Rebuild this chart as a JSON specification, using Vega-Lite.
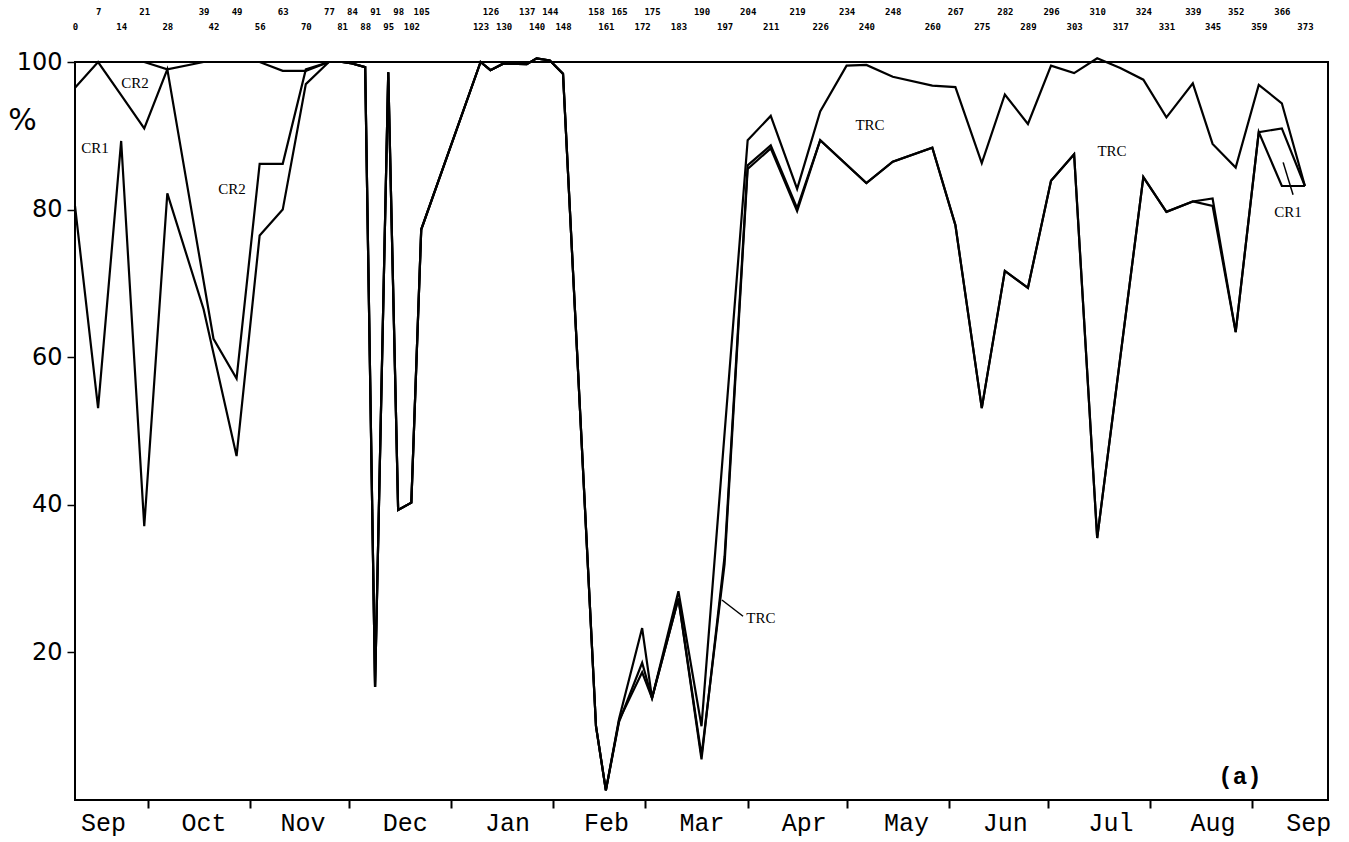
{
"$schema": "https://vega.github.io/schema/vega-lite/v6.json",
"width": 1253, "height": 738,
"autosize": "none",
"padding": {"left": 75, "top": 62, "right": 21, "bottom": 42},
"background": "white",
"config": {"view": {"stroke": "black", "strokeWidth": 2}, "axis": {"grid": false, "domain": false}},
"datasets": {
"series": [
{"series":"TRC","day":0,"value":100},{"series":"TRC","day":7,"value":100},{"series":"TRC","day":14,"value":100},{"series":"TRC","day":21,"value":100},{"series":"TRC","day":28,"value":99},{"series":"TRC","day":39,"value":100},{"series":"TRC","day":42,"value":100},{"series":"TRC","day":49,"value":100},{"series":"TRC","day":56,"value":100},{"series":"TRC","day":63,"value":98.8},{"series":"TRC","day":70,"value":98.8},{"series":"TRC","day":77,"value":100},{"series":"TRC","day":81,"value":100},{"series":"TRC","day":84,"value":99.8},{"series":"TRC","day":88,"value":99.3},{"series":"TRC","day":91,"value":15.3},{"series":"TRC","day":95,"value":98.6},{"series":"TRC","day":98,"value":39.3},{"series":"TRC","day":102,"value":40.3},{"series":"TRC","day":105,"value":77.3},{"series":"TRC","day":123,"value":100},{"series":"TRC","day":126,"value":98.9},{"series":"TRC","day":130,"value":99.8},{"series":"TRC","day":137,"value":99.7},{"series":"TRC","day":140,"value":100.5},{"series":"TRC","day":144,"value":100.2},{"series":"TRC","day":148,"value":98.4},{"series":"TRC","day":158,"value":10},{"series":"TRC","day":161,"value":1.3},{"series":"TRC","day":165,"value":11},{"series":"TRC","day":172,"value":23.3},{"series":"TRC","day":175,"value":13.8},{"series":"TRC","day":183,"value":28.3},{"series":"TRC","day":190,"value":10},{"series":"TRC","day":204,"value":89.4},{"series":"TRC","day":211,"value":92.7},{"series":"TRC","day":219,"value":82.8},{"series":"TRC","day":226,"value":93.3},{"series":"TRC","day":234,"value":99.5},{"series":"TRC","day":240,"value":99.6},{"series":"TRC","day":248,"value":98},{"series":"TRC","day":260,"value":96.8},{"series":"TRC","day":267,"value":96.6},{"series":"TRC","day":275,"value":86.3},{"series":"TRC","day":282,"value":95.6},{"series":"TRC","day":289,"value":91.6},{"series":"TRC","day":296,"value":99.5},{"series":"TRC","day":303,"value":98.5},{"series":"TRC","day":310,"value":100.5},{"series":"TRC","day":317,"value":99.2},{"series":"TRC","day":324,"value":97.6},{"series":"TRC","day":331,"value":92.5},{"series":"TRC","day":339,"value":97.1},{"series":"TRC","day":345,"value":88.9},{"series":"TRC","day":352,"value":85.7},{"series":"TRC","day":359,"value":96.9},{"series":"TRC","day":366,"value":94.4},{"series":"TRC","day":373,"value":83.2},
{"series":"CR1","day":0,"value":80.5},{"series":"CR1","day":7,"value":53.1},{"series":"CR1","day":14,"value":89.3},{"series":"CR1","day":21,"value":37.1},{"series":"CR1","day":28,"value":82.2},{"series":"CR1","day":39,"value":66.5},{"series":"CR1","day":49,"value":46.6},{"series":"CR1","day":56,"value":76.5},{"series":"CR1","day":63,"value":80},{"series":"CR1","day":70,"value":97},{"series":"CR1","day":77,"value":100},{"series":"CR1","day":81,"value":100},{"series":"CR1","day":84,"value":99.8},{"series":"CR1","day":88,"value":99.3},{"series":"CR1","day":91,"value":15.3},{"series":"CR1","day":95,"value":98.6},{"series":"CR1","day":98,"value":39.3},{"series":"CR1","day":102,"value":40.3},{"series":"CR1","day":105,"value":77.3},{"series":"CR1","day":123,"value":100},{"series":"CR1","day":126,"value":98.9},{"series":"CR1","day":130,"value":99.8},{"series":"CR1","day":137,"value":99.7},{"series":"CR1","day":140,"value":100.5},{"series":"CR1","day":144,"value":100.2},{"series":"CR1","day":148,"value":98.4},{"series":"CR1","day":158,"value":10},{"series":"CR1","day":161,"value":1.3},{"series":"CR1","day":165,"value":10.6},{"series":"CR1","day":172,"value":18.6},{"series":"CR1","day":175,"value":13.8},{"series":"CR1","day":183,"value":27.3},{"series":"CR1","day":190,"value":5.5},{"series":"CR1","day":197,"value":33},{"series":"CR1","day":204,"value":86},{"series":"CR1","day":211,"value":88.7},{"series":"CR1","day":219,"value":80.2},{"series":"CR1","day":226,"value":89.4},{"series":"CR1","day":240,"value":83.6},{"series":"CR1","day":248,"value":86.5},{"series":"CR1","day":260,"value":88.4},{"series":"CR1","day":267,"value":77.9},{"series":"CR1","day":275,"value":53.1},{"series":"CR1","day":282,"value":71.7},{"series":"CR1","day":289,"value":69.4},{"series":"CR1","day":296,"value":83.9},{"series":"CR1","day":303,"value":87.5},{"series":"CR1","day":310,"value":35.5},{"series":"CR1","day":324,"value":84.4},{"series":"CR1","day":331,"value":79.7},{"series":"CR1","day":339,"value":81.1},{"series":"CR1","day":345,"value":81.5},{"series":"CR1","day":352,"value":63.4},{"series":"CR1","day":359,"value":90.5},{"series":"CR1","day":366,"value":83.2},{"series":"CR1","day":373,"value":83.2},
{"series":"CR2","day":0,"value":96.5},{"series":"CR2","day":7,"value":100},{"series":"CR2","day":14,"value":95.5},{"series":"CR2","day":21,"value":91},{"series":"CR2","day":28,"value":99},{"series":"CR2","day":42,"value":62.5},{"series":"CR2","day":49,"value":57.1},{"series":"CR2","day":56,"value":86.2},{"series":"CR2","day":63,"value":86.2},{"series":"CR2","day":70,"value":99},{"series":"CR2","day":77,"value":100},{"series":"CR2","day":81,"value":100},{"series":"CR2","day":84,"value":99.8},{"series":"CR2","day":88,"value":99.3},{"series":"CR2","day":91,"value":15.3},{"series":"CR2","day":95,"value":98.6},{"series":"CR2","day":98,"value":39.3},{"series":"CR2","day":102,"value":40.3},{"series":"CR2","day":105,"value":77.3},{"series":"CR2","day":123,"value":100},{"series":"CR2","day":126,"value":98.9},{"series":"CR2","day":130,"value":99.8},{"series":"CR2","day":137,"value":99.7},{"series":"CR2","day":140,"value":100.5},{"series":"CR2","day":144,"value":100.2},{"series":"CR2","day":148,"value":98.4},{"series":"CR2","day":158,"value":10},{"series":"CR2","day":161,"value":1.3},{"series":"CR2","day":165,"value":10.8},{"series":"CR2","day":172,"value":17.3},{"series":"CR2","day":175,"value":13.8},{"series":"CR2","day":183,"value":27.3},{"series":"CR2","day":190,"value":6},{"series":"CR2","day":197,"value":32},{"series":"CR2","day":204,"value":85.5},{"series":"CR2","day":211,"value":88.3},{"series":"CR2","day":219,"value":79.8},{"series":"CR2","day":226,"value":89.4},{"series":"CR2","day":240,"value":83.6},{"series":"CR2","day":248,"value":86.5},{"series":"CR2","day":260,"value":88.4},{"series":"CR2","day":267,"value":77.9},{"series":"CR2","day":275,"value":53.1},{"series":"CR2","day":282,"value":71.7},{"series":"CR2","day":289,"value":69.4},{"series":"CR2","day":296,"value":83.9},{"series":"CR2","day":303,"value":87.5},{"series":"CR2","day":310,"value":35.5},{"series":"CR2","day":324,"value":84.4},{"series":"CR2","day":331,"value":79.7},{"series":"CR2","day":339,"value":81.1},{"series":"CR2","day":345,"value":80.5},{"series":"CR2","day":352,"value":63.4},{"series":"CR2","day":359,"value":90.5},{"series":"CR2","day":366,"value":91},{"series":"CR2","day":373,"value":83.2}
],
"notes": [
{"day":6.1,"value":88.3,"text":"CR1"},
{"day":18.2,"value":97.1,"text":"CR2"},
{"day":47.6,"value":82.8,"text":"CR2"},
{"day":208,"value":24.6,"text":"TRC"},
{"day":241.1,"value":91.5,"text":"TRC"},
{"day":314.5,"value":87.9,"text":"TRC"},
{"day":367.9,"value":79.7,"text":"CR1"}
],
"pointers": [
{"day":196.2,"day2":202.6,"value":27.1,"value2":24.9},
{"day":366.4,"day2":369.4,"value":86.4,"value2":82.0}
],
"panel": [{"day":353.3,"value":3.1,"text":"(a)"}]
},
"layer": [
{"data": {"name": "series"},
 "mark": {"type": "line", "color": "black", "strokeWidth": 2.2, "clip": false},
 "encoding": {
  "x": {"field": "day", "type": "quantitative", "scale": {"domain": [0, 380], "nice": false, "zero": false},
   "axis": {"orient": "bottom", "values": [22,53,83,114,145,173,204,234,265,295,326,357], "labels": false, "ticks": true, "tickSize": 8, "tickWidth": 2, "tickColor": "black", "title": null}},
  "y": {"field": "value", "type": "quantitative", "scale": {"domain": [0, 100], "nice": false, "zero": true},
   "axis": {"values": [20,40,60,80,100], "tickSize": 8, "tickWidth": 1.5, "tickColor": "black", "labelFont": "DejaVu Sans", "labelFontSize": 24, "labelColor": "black", "labelPadding": 5, "title": "%", "titleAngle": 0, "titleX": -53, "titleY": 58, "titleFont": "DejaVu Sans", "titleFontSize": 30, "titleFontWeight": "normal", "titleAlign": "center", "titleBaseline": "middle", "titleColor": "black"}},
  "detail": {"field": "series"}
 }},
{"data": {"name": "notes"},
 "mark": {"type": "text", "font": "Liberation Serif", "fontSize": 15, "color": "black", "align": "center", "baseline": "middle"},
 "encoding": {
  "x": {"field": "day", "type": "quantitative", "axis": null},
  "y": {"field": "value", "type": "quantitative", "axis": null},
  "text": {"field": "text"}
 }},
{"data": {"name": "pointers"},
 "mark": {"type": "rule", "color": "black", "strokeWidth": 1.5},
 "encoding": {
  "x": {"field": "day", "type": "quantitative", "axis": null},
  "x2": {"field": "day2"},
  "y": {"field": "value", "type": "quantitative", "axis": null},
  "y2": {"field": "value2"}
 }},
{"data": {"name": "panel"},
 "mark": {"type": "text", "font": "Liberation Mono", "fontSize": 24, "fontWeight": "bold", "color": "black", "align": "center", "baseline": "middle"},
 "encoding": {
  "x": {"field": "day", "type": "quantitative", "axis": null},
  "y": {"field": "value", "type": "quantitative", "axis": null},
  "text": {"field": "text"}
 }},
{"data": {"name": "series"},
 "mark": {"type": "point", "opacity": 0},
 "encoding": {
  "x": {"field": "day", "type": "quantitative",
   "axis": {"orient": "top", "values": [0,7,14,21,28,39,42,49,56,63,70,77,81,84,88,91,95,98,102,105,123,126,130,137,140,144,148,158,161,165,172,175,183,190,197,204,211,219,226,234,240,248,260,267,275,282,289,296,303,310,317,324,331,339,345,352,359,366,373],
    "ticks": false, "labelFont": "DejaVu Sans Mono", "labelFontWeight": "bold", "labelFontSize": 9, "labelColor": "black", "labelOverlap": false, "labelFlush": false, "labelBound": false,
    "labelPadding": {"condition": {"test": "indexof([7,21,39,49,63,77,84,91,98,105,126,137,144,158,165,175,190,204,219,234,248,267,282,296,310,324,339,352,366], datum.value) >= 0", "value": 46}, "value": 31},
    "title": null}}
 }},
{"data": {"name": "series"},
 "mark": {"type": "point", "opacity": 0},
 "encoding": {
  "x": {"field": "day", "type": "quantitative",
   "axis": {"orient": "bottom", "values": [8.5,39,69,100,131,161,190,221,252,282,314,345,374],
    "labelExpr": "['Sep','Oct','Nov','Dec','Jan','Feb','Mar','Apr','May','Jun','Jul','Aug','Sep'][indexof([8.5,39,69,100,131,161,190,221,252,282,314,345,374], datum.value)]",
    "ticks": false, "labelFont": "Liberation Mono", "labelFontSize": 25, "labelColor": "black", "labelPadding": 10, "labelOverlap": false, "labelFlush": false, "labelBound": false, "title": null}}
 }}
],
"resolve": {"axis": {"x": "independent", "y": "independent"}}
}
